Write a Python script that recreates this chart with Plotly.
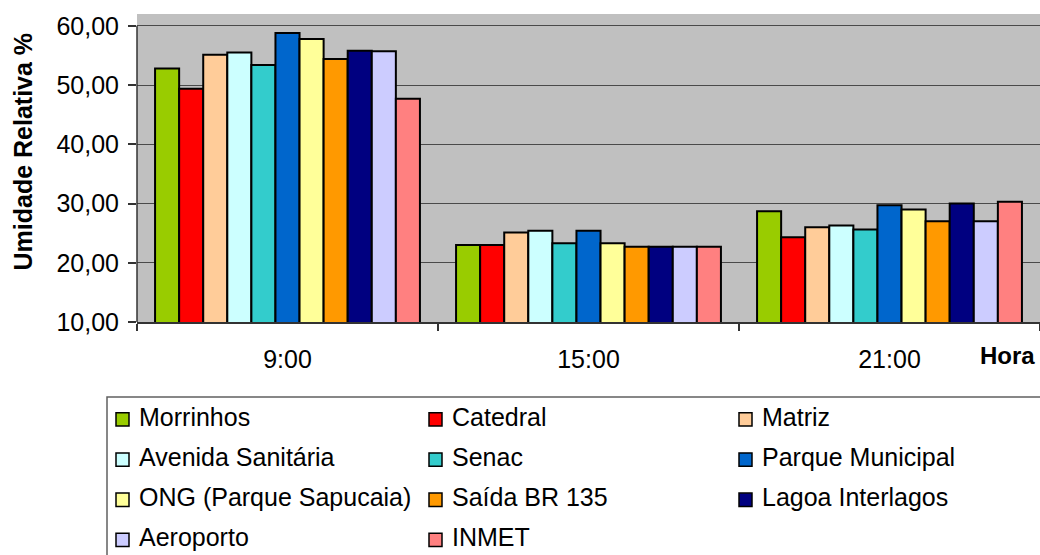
import plotly.graph_objects as go

# ---------------- data ----------------
horas = ["9:00", "15:00", "21:00"]
series_names = ["Morrinhos", "Catedral", "Matriz", "Avenida Sanitária", "Senac",
                "Parque Municipal", "ONG (Parque Sapucaia)", "Saída BR 135",
                "Lagoa Interlagos", "Aeroporto", "INMET"]
morrinhos = [52.8, 23.0, 28.7]
catedral = [49.4, 23.0, 24.3]
matriz = [55.1, 25.1, 26.0]
avenida_sanitaria = [55.5, 25.4, 26.3]
senac = [53.4, 23.3, 25.6]
parque_municipal = [58.8, 25.4, 29.7]
ong_parque_sapucaia = [57.8, 23.3, 29.0]
saida_br135 = [54.4, 22.7, 27.0]
lagoa_interlagos = [55.8, 22.7, 30.0]
aeroporto = [55.7, 22.7, 27.0]
inmet = [47.7, 22.7, 30.3]
series_values = [morrinhos, catedral, matriz, avenida_sanitaria, senac,
                 parque_municipal, ong_parque_sapucaia, saida_br135,
                 lagoa_interlagos, aeroporto, inmet]
colors = ["#99CC00", "#FF0000", "#FFCC99", "#CCFFFF", "#33CCCC", "#0066CC",
          "#FFFF99", "#FF9900", "#000080", "#CCCCFF", "#FF8080"]
y_ticks = [10, 20, 30, 40, 50, 60]
y_ticklabels = ["10,00", "20,00", "30,00", "40,00", "50,00", "60,00"]

# ---------------- layout geometry ----------------
W, H = 1040, 555
L, T = 137, 14
PW = W - L                 # plot area reaches the right edge of the window
PH = 322 - T
R = W - L - PW
B = H - T - PH
FONT = "Liberation Sans, Arial, sans-serif"


def px_x(p):
    """screen x pixel -> paper coordinate"""
    return (p - L) / PW


def px_y(p):
    """screen y pixel -> paper coordinate"""
    return (T + PH - p) / PH


fig = go.Figure()
for name, vals, col in zip(series_names, series_values, colors):
    fig.add_trace(go.Bar(
        x=horas, y=vals, name=name, showlegend=False,
        marker=dict(color=col, line=dict(color="#000000", width=2)),
    ))

shapes = []
annotations = []

# y-axis line (from 10 to 60 only)
shapes.append(dict(type="line", xref="paper", yref="y", x0=0, x1=0, y0=10, y1=60,
                   line=dict(color="#333333", width=1.5)))

# manual legend
shapes.append(dict(type="rect", xref="paper", yref="paper",
                   x0=px_x(107), x1=px_x(1050), y0=px_y(397), y1=px_y(570),
                   line=dict(color="#606060", width=1.5), fillcolor="rgba(0,0,0,0)"))
col_x = [116, 429, 739]
row0, row_step = 415.5, 40.2
for i, (name, col) in enumerate(zip(series_names, colors)):
    r, c = divmod(i, 3)
    cy = row0 + r * row_step
    mx = col_x[c]
    shapes.append(dict(type="rect", xref="paper", yref="paper",
                       x0=px_x(mx), x1=px_x(mx + 13), y0=px_y(cy - 2.8), y1=px_y(cy + 10.5),
                       line=dict(color="#000000", width=1.5), fillcolor=col))
    annotations.append(dict(text=name, xref="paper", yref="paper",
                            x=px_x(mx + 21), y=px_y(cy + 1), xanchor="left", yanchor="middle",
                            showarrow=False, font=dict(family=FONT, size=25, color="#000000")))

# axis titles
annotations.append(dict(text="<b>Umidade Relativa %</b>", xref="paper", yref="paper",
                        x=px_x(22), y=px_y(151.5), xanchor="center", yanchor="middle",
                        textangle=-90, showarrow=False,
                        font=dict(family=FONT, size=25, color="#000000")))
annotations.append(dict(text="<b>Hora</b>", xref="paper", yref="paper",
                        x=px_x(1007), y=px_y(355), xanchor="center", yanchor="middle",
                        showarrow=False, font=dict(family=FONT, size=24, color="#000000")))

fig.update_layout(
    width=W, height=H,
    margin=dict(l=L, r=R, t=T, b=B, pad=0),
    paper_bgcolor="#FFFFFF", plot_bgcolor="#C0C0C0",
    barmode="group", bargap=0.12, bargroupgap=0,
    font=dict(family=FONT, size=25, color="#000000"),
    shapes=shapes, annotations=annotations,
    xaxis=dict(type="category", tickson="boundaries", ticks="outside", ticklen=7,
               tickcolor="#333333", tickwidth=1.5, showline=True, linecolor="#333333",
               linewidth=1.5, showgrid=False, ticklabelstandoff=14,
               tickfont=dict(family=FONT, size=25, color="#000000")),
    yaxis=dict(range=[10, 62], tickvals=y_ticks, ticktext=y_ticklabels, ticks="outside",
               ticklen=8, tickcolor="#333333", tickwidth=1.5, showline=False,
               showgrid=True, gridcolor="#4A4A4A", gridwidth=1, zeroline=False,
               ticklabelstandoff=4,
               tickfont=dict(family=FONT, size=25, color="#000000")),
)

fig.write_html(
    "out.html",
    config={"displayModeBar": False},
    post_script=(
        "document.body.style.margin='0px';"
        "document.body.style.overflow='hidden';"
        "document.documentElement.style.overflow='hidden';"
    ),
)
